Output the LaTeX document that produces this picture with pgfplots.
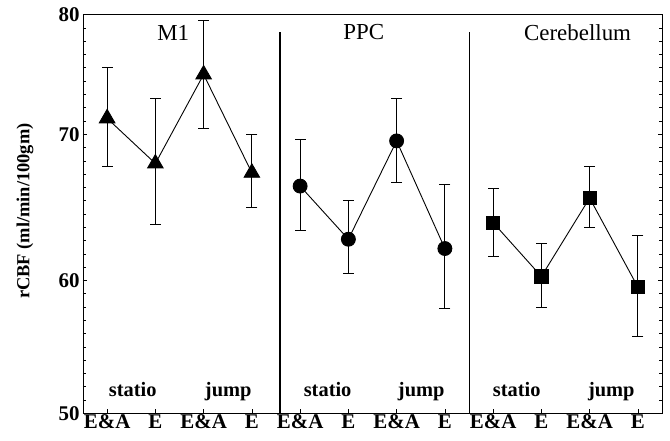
\documentclass[border=0pt]{standalone}
\usepackage{fontspec}
\setmainfont{Liberation Serif}
\usepackage{pgfplots}
\pgfplotsset{compat=1.18}
\usepackage{pgfplotstable}

\pgfplotstableread{
x y ep em
0 72.2 3.8 3.6
1 68.8 4.9 4.6
2 75.5 4.05 4.05
3 68.1 2.9 2.6
}\mone
\pgfplotstableread{
x y ep em
4 67.1 3.5 3.3
5 63.1 2.9 2.6
6 70.5 3.2 3.1
7 62.4 4.8 4.5
}\ppc
\pgfplotstableread{
x y ep em
8 64.35 2.55 2.55
9 60.3 2.5 2.3
10 66.2 2.4 2.2
11 59.5 3.9 3.7
}\cer

\pgfplotsset{
  myerr/.style={
    error bars/.cd, y dir=both, y explicit,
    error bar style={line width=0.8pt, black},
    error mark=none
  },
  caps/.style={black, only marks, mark=-, mark size=5.5pt, mark options={line width=0.8pt}}
}

\begin{document}
\begin{tikzpicture}
\begin{axis}[
  at={(0,0)}, anchor=south west,
  scale only axis,
  width=579bp, height=398.6bp,
  xmin=-0.5, xmax=11.5,
  ymin=50, ymax=80,
  xtick={0,...,11},
  xticklabels={E\&A,E,E\&A,E,E\&A,E,E\&A,E,E\&A,E,E\&A,E},
  xtick pos=bottom,
  ytick={50,60,71,80},
  yticklabels={50,60,70,80},
  minor ytick={51,...,79},
  ytick pos=both,
  yticklabel pos=left,
  tick align=inside,
  major tick length=4bp,
  minor tick length=3.5bp,
  every tick/.style={black, line width=0.7pt},
  axis line style={black, line width=0.9pt},
  /pgf/number format/assume math mode=true,
  ticklabel style={font=\bfseries\fontsize{21}{21}\selectfont},
  xticklabel style={inner sep=1pt},
  ylabel={rCBF (ml/min/100gm)},
  ylabel style={font=\bfseries\fontsize{18.5}{18.5}\selectfont, at={(axis description cs:-0.100,0.507)}, anchor=center},
  clip=false,
]
% dividers
\addplot[black, line width=1.5pt] coordinates {(3.58,50) (3.58,78.7)};
\addplot[black, line width=1.5pt] coordinates {(7.51,50) (7.51,78.7)};

% error bar caps
\addplot[caps] table[x=x, y expr=\thisrow{y}+\thisrow{ep}] {\mone};
\addplot[caps] table[x=x, y expr=\thisrow{y}-\thisrow{em}] {\mone};
\addplot[caps] table[x=x, y expr=\thisrow{y}+\thisrow{ep}] {\ppc};
\addplot[caps] table[x=x, y expr=\thisrow{y}-\thisrow{em}] {\ppc};
\addplot[caps] table[x=x, y expr=\thisrow{y}+\thisrow{ep}] {\cer};
\addplot[caps] table[x=x, y expr=\thisrow{y}-\thisrow{em}] {\cer};

\addplot[black, line width=0.9pt, mark=triangle*, mark size=9pt, mark options={fill=black}, myerr]
  table[x=x, y=y, y error plus=ep, y error minus=em] {\mone};
\addplot[black, line width=0.9pt, mark=*, mark size=7pt, mark options={fill=black}, myerr]
  table[x=x, y=y, y error plus=ep, y error minus=em] {\ppc};
\addplot[black, line width=0.9pt, mark=square*, mark size=6.7pt, mark options={fill=black}, myerr]
  table[x=x, y=y, y error plus=ep, y error minus=em] {\cer};

\node[font=\fontsize{23}{23}\selectfont, inner sep=0pt] at (axis cs:1.37,78.66) {M1};
\node[font=\fontsize{23}{23}\selectfont, inner sep=0pt] at (axis cs:5.32,78.66) {PPC};
\node[font=\fontsize{23}{23}\selectfont, inner sep=0pt] at (axis cs:9.75,78.66) {Cerebellum};

\node[font=\bfseries\fontsize{20.5}{20.5}\selectfont, anchor=base, inner sep=0pt] at (axis cs:0.53,51.23) {statio};
\node[font=\bfseries\fontsize{20.5}{20.5}\selectfont, anchor=base, inner sep=0pt] at (axis cs:2.51,51.23) {jump};
\node[font=\bfseries\fontsize{20.5}{20.5}\selectfont, anchor=base, inner sep=0pt] at (axis cs:4.57,51.23) {statio};
\node[font=\bfseries\fontsize{20.5}{20.5}\selectfont, anchor=base, inner sep=0pt] at (axis cs:6.51,51.23) {jump};
\node[font=\bfseries\fontsize{20.5}{20.5}\selectfont, anchor=base, inner sep=0pt] at (axis cs:8.49,51.23) {statio};
\node[font=\bfseries\fontsize{20.5}{20.5}\selectfont, anchor=base, inner sep=0pt] at (axis cs:10.45,51.23) {jump};
\end{axis}
\pgfresetboundingbox
\path[use as bounding box] (-83bp,-27.7bp) rectangle (587bp,413.3bp);
\end{tikzpicture}
\end{document}
